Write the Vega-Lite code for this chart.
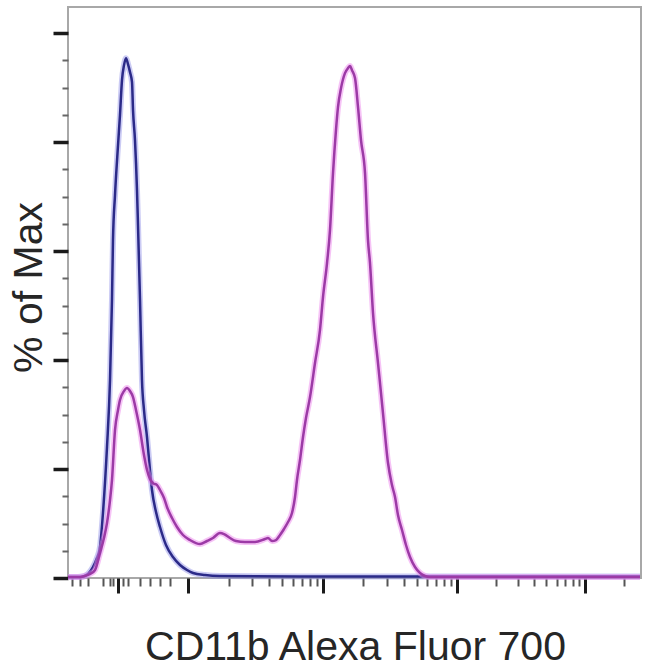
{
  "$schema": "https://vega.github.io/schema/vega-lite/v6.json",
  "width": 573,
  "height": 571,
  "autosize": "none",
  "padding": {"left": 68, "top": 7, "right": 9, "bottom": 90},
  "background": "white",
  "config": {
    "view": {"stroke": "#a8a8a8", "strokeWidth": 2},
    "axis": {"domain": false, "grid": false, "labels": false, "titleFont": "Liberation Sans", "titleFontWeight": "normal", "titleColor": "#262626", "titleFontSize": 41}
  },
  "datasets": {
    "isotype": [
      {"c": 0, "v": 0.18}, {"c": 17.9, "v": 0.18}, {"c": 26.8, "v": 0.28}, {"c": 35.7, "v": 0.73},
      {"c": 44.7, "v": 2.02}, {"c": 51.8, "v": 3.67}, {"c": 57.2, "v": 5.69}, {"c": 62.5, "v": 11.93},
      {"c": 69.7, "v": 24.04}, {"c": 75.1, "v": 36.33}, {"c": 78.6, "v": 51.01}, {"c": 80.4, "v": 62.02},
      {"c": 84.0, "v": 70.28}, {"c": 89.4, "v": 79.45}, {"c": 92.9, "v": 84.96}, {"c": 96.5, "v": 91.38},
      {"c": 100.1, "v": 94.13}, {"c": 103.7, "v": 95.41}, {"c": 107.2, "v": 94.31}, {"c": 110.8, "v": 92.85},
      {"c": 114.4, "v": 91.01}, {"c": 116.2, "v": 85.87}, {"c": 119.7, "v": 80.37}, {"c": 123.3, "v": 71.19},
      {"c": 125.1, "v": 64.77}, {"c": 128.7, "v": 51.01}, {"c": 132.2, "v": 36.33}, {"c": 135.8, "v": 30.83},
      {"c": 141.2, "v": 25.87}, {"c": 146.5, "v": 19.82}, {"c": 150.1, "v": 16.15}, {"c": 157.3, "v": 12.11},
      {"c": 164.4, "v": 9.36}, {"c": 175.1, "v": 6.06}, {"c": 187.6, "v": 3.85}, {"c": 200.2, "v": 2.39},
      {"c": 212.7, "v": 1.47}, {"c": 223.4, "v": 0.92}, {"c": 244.8, "v": 0.55}, {"c": 271.6, "v": 0.37},
      {"c": 414.6, "v": 0.28}, {"c": 593.3, "v": 0.28}, {"c": 1022.2, "v": 0.28}
    ],
    "cd11b": [
      {"c": 0, "v": 0.18}, {"c": 21.4, "v": 0.18}, {"c": 30.4, "v": 0.37}, {"c": 39.3, "v": 0.73},
      {"c": 48.3, "v": 1.47}, {"c": 57.2, "v": 4.59}, {"c": 64.3, "v": 7.34}, {"c": 69.7, "v": 10.09},
      {"c": 75.1, "v": 14.31}, {"c": 78.6, "v": 17.98}, {"c": 84.0, "v": 27.16}, {"c": 89.4, "v": 30.83},
      {"c": 92.9, "v": 32.66}, {"c": 100.1, "v": 34.31}, {"c": 105.4, "v": 34.86}, {"c": 110.8, "v": 34.31},
      {"c": 116.2, "v": 33.21}, {"c": 121.5, "v": 30.83}, {"c": 128.7, "v": 27.16}, {"c": 135.8, "v": 22.57},
      {"c": 141.2, "v": 19.82}, {"c": 146.5, "v": 18.17}, {"c": 151.9, "v": 17.43}, {"c": 159.1, "v": 17.06},
      {"c": 164.4, "v": 16.15}, {"c": 171.6, "v": 14.68}, {"c": 176.9, "v": 13.03}, {"c": 185.9, "v": 11.01},
      {"c": 194.8, "v": 9.36}, {"c": 205.5, "v": 7.89}, {"c": 218.0, "v": 6.97}, {"c": 235.9, "v": 6.24},
      {"c": 248.4, "v": 6.79}, {"c": 259.1, "v": 7.34}, {"c": 271.6, "v": 8.26}, {"c": 278.8, "v": 8.07},
      {"c": 289.5, "v": 7.34}, {"c": 300.2, "v": 6.79}, {"c": 316.3, "v": 6.61}, {"c": 334.2, "v": 6.61},
      {"c": 352.1, "v": 7.16}, {"c": 357.4, "v": 7.34}, {"c": 364.6, "v": 6.79}, {"c": 371.7, "v": 6.97},
      {"c": 378.9, "v": 7.89}, {"c": 386.0, "v": 8.99}, {"c": 393.2, "v": 10.28}, {"c": 400.3, "v": 11.93},
      {"c": 405.7, "v": 14.86}, {"c": 409.2, "v": 17.98}, {"c": 414.6, "v": 21.65}, {"c": 420.0, "v": 25.87},
      {"c": 425.3, "v": 29.36}, {"c": 432.5, "v": 33.21}, {"c": 441.4, "v": 39.45}, {"c": 450.3, "v": 45.51},
      {"c": 455.7, "v": 51.56}, {"c": 462.9, "v": 57.80}, {"c": 468.2, "v": 63.85}, {"c": 473.6, "v": 74.31},
      {"c": 478.9, "v": 82.20}, {"c": 482.5, "v": 86.42}, {"c": 487.9, "v": 89.91}, {"c": 495.0, "v": 92.66},
      {"c": 500.4, "v": 93.58}, {"c": 504.0, "v": 93.95}, {"c": 507.5, "v": 93.21}, {"c": 512.9, "v": 91.75},
      {"c": 518.3, "v": 86.42}, {"c": 523.6, "v": 80.37}, {"c": 530.8, "v": 74.31}, {"c": 536.1, "v": 62.02},
      {"c": 539.7, "v": 57.80}, {"c": 545.1, "v": 48.62}, {"c": 554.0, "v": 39.45}, {"c": 562.9, "v": 30.28},
      {"c": 571.9, "v": 21.10}, {"c": 579.0, "v": 17.06}, {"c": 584.4, "v": 14.86}, {"c": 589.7, "v": 11.56},
      {"c": 596.9, "v": 8.81}, {"c": 604.0, "v": 6.06}, {"c": 611.2, "v": 3.85}, {"c": 620.1, "v": 2.02},
      {"c": 629.1, "v": 0.92}, {"c": 638.0, "v": 0.37}, {"c": 646.9, "v": 0.18}, {"c": 1022.2, "v": 0.18}
    ]
  },
  "resolve": {"axis": {"x": "independent", "y": "independent"}},
  "layer": [
    {
      "data": {"name": "isotype"},
      "mark": {"type": "line", "color": "#8c8ce6", "strokeWidth": 6, "opacity": 0.45, "interpolate": "monotone"},
      "encoding": {
        "x": {"field": "c", "type": "quantitative", "scale": {"domain": [0, 1024], "nice": false, "zero": false},
          "axis": {"orient": "bottom", "values": [89.4, 214.5, 455.7, 695.2, 923.9], "tickSize": 15, "tickWidth": 3, "tickColor": "#1a1a1a",
            "title": "CD11b Alexa Fluor 700", "titleX": 287, "titleY": 81, "titleAlign": "center", "titleBaseline": "alphabetic", "titleAnchor": null}},
        "y": {"field": "v", "type": "quantitative", "scale": {"domain": [0, 104.8], "nice": false},
          "axis": {"orient": "left", "values": [0, 20, 40, 60, 80, 100], "tickSize": 15, "tickWidth": 3.5, "tickColor": "#1a1a1a",
            "title": "% of Max", "titleX": -27, "titleY": 280, "titleAngle": -90, "titleAlign": "center", "titleBaseline": "alphabetic", "titleAnchor": null}}
      }
    },
    {
      "data": {"name": "isotype"},
      "mark": {"type": "line", "color": "#2b2a88", "strokeWidth": 2.5, "interpolate": "monotone"},
      "encoding": {
        "x": {"field": "c", "type": "quantitative",
          "axis": {"orient": "bottom", "values": [7.1, 21.4, 35.7, 62.5, 75.1, 80.4, 98.3, 107.2, 128.7, 146.5, 164.4, 182.3, 287.7, 328.8, 359.2, 382.4, 402.1, 418.2, 432.5, 445.0, 527.2, 570.1, 600.5, 623.7, 641.6, 657.6, 672.0, 684.5, 764.9, 804.2, 832.8, 854.2, 873.9, 888.2, 902.5, 913.2, 993.6],
            "tickSize": 8, "tickWidth": 2, "tickColor": "#555555", "title": null}},
        "y": {"field": "v", "type": "quantitative",
          "axis": {"orient": "left", "values": [5, 10, 15, 25, 30, 35, 45, 50, 55, 65, 70, 75, 85, 90, 95],
            "tickSize": 6, "tickWidth": 2, "tickColor": "#666666", "title": null}}
      }
    },
    {
      "data": {"name": "cd11b"},
      "mark": {"type": "line", "color": "#ee88ee", "strokeWidth": 6, "opacity": 0.5, "interpolate": "monotone"},
      "encoding": {
        "x": {"field": "c", "type": "quantitative", "axis": null},
        "y": {"field": "v", "type": "quantitative", "axis": null}
      }
    },
    {
      "data": {"name": "cd11b"},
      "mark": {"type": "line", "color": "#9c3aa6", "strokeWidth": 2.5, "interpolate": "monotone"},
      "encoding": {
        "x": {"field": "c", "type": "quantitative", "axis": null},
        "y": {"field": "v", "type": "quantitative", "axis": null}
      }
    }
  ]
}
